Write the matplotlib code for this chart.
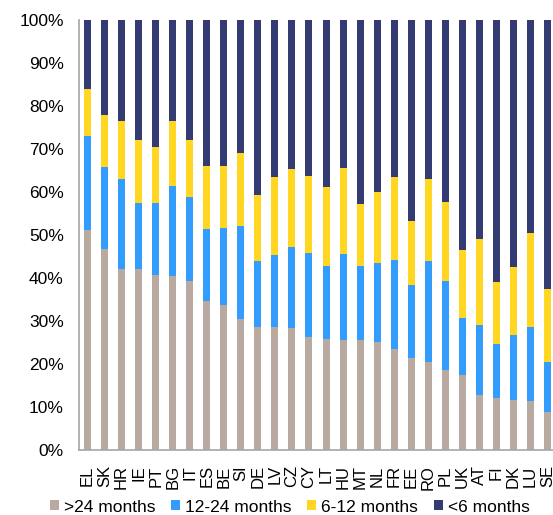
import matplotlib
matplotlib.use("Agg")
from matplotlib import pyplot as plt
from matplotlib.ticker import PercentFormatter
import numpy as np

plt.rcParams['font.family'] = ['Liberation Sans', 'DejaVu Sans']

countries = ['EL', 'SK', 'HR', 'IE', 'PT', 'BG', 'IT', 'ES', 'BE', 'SI', 'DE', 'LV', 'CZ', 'CY',
             'LT', 'HU', 'MT', 'NL', 'FR', 'EE', 'RO', 'PL', 'UK', 'AT', 'FI', 'DK', 'LU', 'SE']

# shares in %
over_24 = [51.2, 46.8, 42.1, 42.1, 40.7, 40.5, 39.2, 34.6, 33.7, 30.4, 28.7, 28.7, 28.3, 26.3,
           25.9, 25.6, 25.6, 25.2, 23.4, 21.5, 20.5, 18.6, 17.5, 12.8, 12.0, 11.7, 11.5, 8.9]
m12_24 = [21.9, 19.0, 20.9, 15.4, 16.7, 21.0, 19.6, 16.9, 17.9, 21.8, 15.2, 16.7, 18.8, 19.4,
          17.0, 19.9, 17.1, 18.4, 20.8, 16.8, 23.4, 20.6, 13.1, 16.3, 12.7, 15.0, 17.2, 11.5]
m6_12 = [10.9, 12.0, 13.6, 14.5, 13.0, 15.1, 13.3, 14.5, 14.4, 16.9, 15.5, 18.0, 18.3, 18.0,
         18.2, 20.0, 14.4, 16.3, 19.2, 15.0, 19.2, 18.5, 15.9, 20.0, 14.3, 15.9, 21.8, 17.1]
under_6 = [100 - a - b - c for a, b, c in zip(over_24, m12_24, m6_12)]

series = [('>24 months', over_24, '#B8A9A1'),
          ('12-24 months', m12_24, '#339CFF'),
          ('6-12 months', m6_12, '#FFD622'),
          ('<6 months', under_6, '#343B72')]

fig = plt.figure(figsize=(5.53, 5.15), dpi=100)
ax = fig.add_axes([79 / 553, 65 / 515, 477 / 553, 430 / 515])

x = np.arange(len(countries))
bottom = np.zeros(len(countries))
for label, vals, color in series:
    ax.bar(x, vals, width=0.41, bottom=bottom, color=color, label=label)
    bottom += np.array(vals)

ax.set_xlim(-0.5, len(countries) - 0.5)
ax.set_ylim(0, 100)
ax.set_yticks(np.arange(0, 101, 10))
ax.yaxis.set_major_formatter(PercentFormatter(decimals=0))
ax.set_xticks(x)
ax.set_xticklabels(countries, rotation=90)
ax.tick_params(axis='both', length=0)
ax.tick_params(axis='y', pad=11, labelsize=12.5)
ax.tick_params(axis='x', pad=11, labelsize=12)

for side in ['top', 'right']:
    ax.spines[side].set_visible(False)
for side in ['left', 'bottom']:
    ax.spines[side].set_color('#A6A6A6')
    ax.spines[side].set_linewidth(1.2)

fig.legend(loc='center', bbox_to_anchor=(290 / 553, 1 - 507 / 515), ncol=4, frameon=False,
           fontsize=12.5, handlelength=0.5, handleheight=0.5, handletextpad=0.3,
           columnspacing=0.9, borderpad=0)

fig.savefig('out.png', dpi=100)
